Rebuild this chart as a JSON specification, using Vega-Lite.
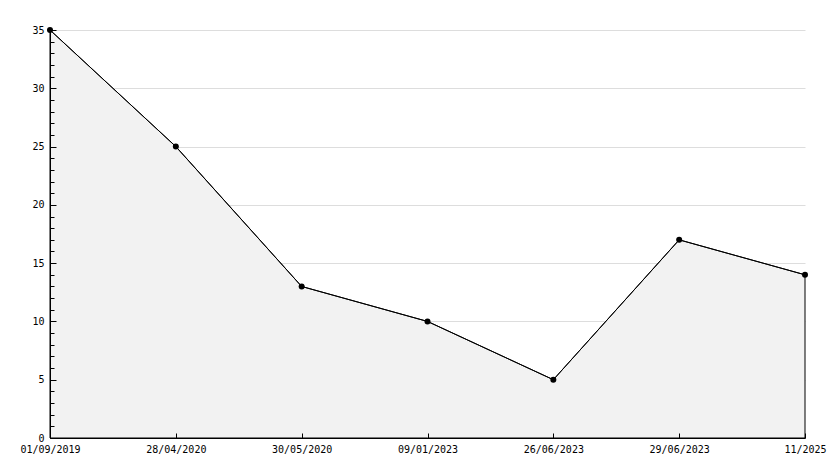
{
  "$schema": "https://vega.github.io/schema/vega-lite/v6.json",
  "width": 755,
  "height": 408,
  "autosize": {"type": "none"},
  "padding": {"left": 50, "top": 30, "right": 29, "bottom": 30},
  "background": "white",
  "config": {
    "view": {"stroke": null},
    "axis": {"labelFont": "DejaVu Sans Mono", "labelFontSize": 10, "labelColor": "#000", "domainColor": "#000", "tickColor": "#000"}
  },
  "data": {
    "values": [
      {"date": "01/09/2019", "value": 35},
      {"date": "28/04/2020", "value": 25},
      {"date": "30/05/2020", "value": 13},
      {"date": "09/01/2023", "value": 10},
      {"date": "26/06/2023", "value": 5},
      {"date": "29/06/2023", "value": 17},
      {"date": "11/2025", "value": 14}
    ]
  },
  "encoding": {
    "x": {
      "field": "date", "type": "ordinal", "sort": null,
      "scale": {"type": "point", "padding": 0},
      "axis": {"title": null, "labelAngle": 0, "tickSize": -5, "labelPadding": 11, "grid": false, "domainWidth": 1, "zindex": 1}
    }
  },
  "layer": [
    {
      "mark": {"type": "area", "fill": "#f2f2f2", "stroke": "#000", "strokeWidth": 1},
      "encoding": {
        "y": {"field": "value", "type": "quantitative", "scale": {"domain": [0, 35], "nice": false},
          "axis": {"title": null, "orient": "left", "values": [0,5,10,15,20,25,30,35], "tickSize": -6, "labelPadding": 12, "grid": false, "domain": true, "zindex": 1}}
      }
    },
    {
      "mark": {"type": "line", "color": "#000", "strokeWidth": 1},
      "encoding": {
        "y": {"field": "value", "type": "quantitative", "scale": {"domain": [0, 35], "nice": false},
          "axis": {"title": null, "orient": "left", "values": [1,2,3,4,6,7,8,9,11,12,13,14,16,17,18,19,21,22,23,24,26,27,28,29,31,32,33,34], "tickSize": -4, "labels": false, "grid": false, "domain": false, "zindex": 1}}
      }
    },
    {
      "mark": {"type": "point", "shape": "circle", "filled": true, "color": "#000", "size": 36, "opacity": 1},
      "encoding": {
        "y": {"field": "value", "type": "quantitative", "scale": {"domain": [0, 35], "nice": false},
          "axis": {"title": null, "orient": "left", "values": [5,10,15,20,25,30,35], "ticks": false, "labels": false, "domain": false, "grid": true, "gridColor": "#dddddd", "zindex": 0}}
      }
    }
  ],
  "resolve": {"axis": {"y": "independent"}}
}
